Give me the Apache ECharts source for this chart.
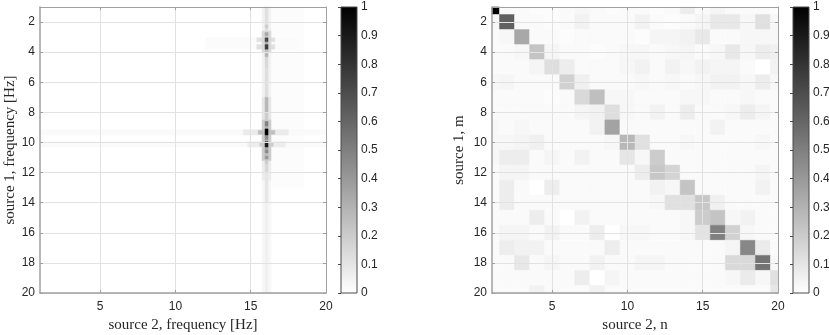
<!DOCTYPE html>
<html>
<head>
<meta charset="utf-8">
<title>Source coherence maps</title>
<script src="https://cdn.jsdelivr.net/npm/echarts@6/dist/echarts.min.js"></script>
<style>
  html, body { margin: 0; padding: 0; background: #fff; }
  #chart { width: 829px; height: 335px; }
</style>
</head>
<body>
<div id="chart"></div>
<script>
// tick values shown on the two panels
const xTicks = [5, 10, 15, 20]
const yTicks = [2, 4, 6, 8, 10, 12, 14, 16, 18, 20]
const grayRamp = ['#ffffff', '#000000']   // 0 -> white, 1 -> black
const colorbarRange = [[0, 1]]

// left panel: narrow line at ~16 Hz (source 2) with peaks along source 1
const coreCol = [15.95, 16.15]
const haloCol = [15.75, 16.35]
// [y0, y1, value] along the core of the line
const stripeCore = [
  [1, 2.2, 0.12], [2.2, 2.4, 0.2], [2.4, 2.7, 0.12], [2.7, 2.9, 0.35],
  [2.9, 3.05, 0.2], [3.05, 3.3, 0.72], [3.3, 3.5, 0.3], [3.5, 3.8, 0.76],
  [3.8, 4.1, 0.25], [4.1, 4.3, 0.3], [4.3, 5, 0.15], [5, 7, 0.13],
  [7, 8, 0.28], [8, 8.6, 0.2], [8.6, 8.9, 0.5], [8.9, 9.1, 0.3],
  [9.1, 9.5, 1.0], [9.5, 9.8, 0.45], [9.8, 9.95, 0.3], [9.95, 10.3, 0.9],
  [10.3, 10.5, 0.35], [10.5, 10.7, 0.45], [10.7, 10.9, 0.25], [10.9, 11.1, 0.4],
  [11.1, 11.4, 0.2], [11.4, 12, 0.15], [12, 14, 0.1], [14, 20, 0.06]
]
// [y0, y1, value] for the soft edge of the line
const stripeHalo = [
  [1, 2.6, 0.05], [2.6, 4, 0.15], [4, 7, 0.05], [7, 8.5, 0.1],
  [8.5, 11.2, 0.2], [11.2, 12.5, 0.07], [12.5, 20, 0.03]
]
// [x0, x1, y0, y1, value] faint cross terms
const crossBands = [
  [16.35, 18.5, 1, 13, 0.012],
  [12, 18, 3.05, 3.8, 0.015],
  [15.4, 16.6, 3.05, 3.3, 0.12],
  [15.4, 16.6, 3.5, 3.8, 0.12],
  [1, 20, 9.15, 9.5, 0.02],
  [1, 20, 9.95, 10.3, 0.02],
  [14.5, 17.5, 9.15, 9.5, 0.08],
  [14.8, 17.3, 9.95, 10.3, 0.07],
  [15.5, 16.6, 9.2, 9.45, 0.25],
  [15.6, 16.5, 10, 10.25, 0.2]
]

// right panel: 20 x 20 matrix, row m (source 1), column n (source 2)
const matrixRows = [
  [1.00, .02, .02, .01, .01, .02, .03, .02, .01, .02, .02, .01, .02, .07, .02, .04, .02, .02, .02, .01],
  [.03, .62, .02, .02, .01, .02, .05, .02, .02, .02, .05, .02, .01, .02, .04, .09, .09, .03, .12, .03],
  [.02, .03, .34, .02, .02, .01, .02, .02, .02, .02, .01, .04, .04, .05, .09, .02, .02, .03, .03, .03],
  [.02, .02, .03, .23, .04, .02, .02, .01, .02, .03, .03, .02, .03, .04, .02, .03, .09, .03, .07, .06],
  [.02, .02, .02, .04, .13, .07, .02, .02, .02, .03, .05, .02, .05, .03, .05, .04, .04, .02, .00, .05],
  [.03, .04, .02, .02, .02, .18, .06, .02, .02, .02, .03, .02, .03, .02, .03, .05, .05, .03, .07, .03],
  [.02, .02, .02, .02, .01, .02, .15, .25, .03, .03, .02, .02, .02, .03, .03, .02, .02, .03, .02, .02],
  [.02, .02, .02, .02, .02, .02, .04, .05, .13, .03, .02, .05, .02, .07, .02, .02, .03, .07, .04, .02],
  [.03, .02, .03, .02, .02, .02, .02, .05, .36, .02, .02, .02, .02, .02, .02, .05, .02, .02, .02, .02],
  [.03, .03, .04, .06, .02, .02, .02, .02, .03, .28, .12, .02, .02, .03, .02, .02, .02, .02, .03, .02],
  [.03, .07, .07, .02, .04, .02, .05, .02, .02, .10, .03, .20, .02, .02, .02, .02, .02, .02, .02, .02],
  [.02, .04, .04, .02, .02, .02, .02, .02, .02, .02, .07, .22, .17, .02, .02, .02, .02, .02, .04, .02],
  [.02, .07, .02, .00, .07, .02, .02, .02, .02, .02, .02, .05, .03, .23, .02, .02, .02, .02, .05, .02],
  [.02, .07, .02, .02, .02, .02, .02, .02, .02, .02, .02, .03, .12, .12, .22, .06, .02, .02, .02, .02],
  [.02, .02, .02, .07, .02, .00, .05, .02, .02, .02, .02, .02, .02, .03, .20, .23, .03, .05, .02, .02],
  [.02, .04, .04, .02, .05, .02, .02, .07, .00, .03, .03, .02, .02, .03, .11, .50, .18, .03, .02, .02],
  [.02, .07, .05, .05, .02, .02, .02, .02, .07, .02, .02, .02, .02, .02, .02, .02, .04, .47, .08, .02],
  [.02, .02, .09, .02, .04, .02, .02, .05, .02, .02, .04, .04, .02, .02, .02, .02, .15, .15, .55, .03],
  [.02, .02, .02, .02, .02, .02, .07, .00, .04, .02, .02, .02, .02, .02, .02, .02, .03, .08, .03, .12],
  [.02, .02, .02, .05, .02, .02, .02, .05, .02, .02, .02, .02, .02, .02, .02, .02, .02, .02, .02, .10]
]

const axisGray = '#a0a0a0'
const gridGray = '#e2e2e2'
const textColor = '#262626'
const labelFont = 'Liberation Sans, Arial, sans-serif'
const nameFont = 'Liberation Serif, Times New Roman, serif'

// build cells as [x0, x1, y0, y1, value]
const leftCells = []
crossBands.forEach(b => leftCells.push(b))
stripeHalo.forEach(s => leftCells.push([haloCol[0], haloCol[1], s[0], s[1], s[2]]))
stripeCore.forEach(s => leftCells.push([coreCol[0], coreCol[1], s[0], s[1], s[2]]))
leftCells.sort((a, b) => a[4] - b[4])

const rightCells = []
matrixRows.forEach((row, i) => {
  row.forEach((v, j) => {
    rightCells.push([j + 0.5, j + 1.5, i + 0.5, i + 1.5, v])
  })
})

function renderCell(params, api) {
  const p0 = api.coord([api.value(0), api.value(2)])
  const p1 = api.coord([api.value(1), api.value(3)])
  const cs = params.coordSys
  const shape = echarts.graphic.clipRectByRect({
    x: Math.min(p0[0], p1[0]),
    y: Math.min(p0[1], p1[1]),
    width: Math.abs(p1[0] - p0[0]),
    height: Math.abs(p1[1] - p0[1])
  }, { x: cs.x, y: cs.y, width: cs.width, height: cs.height })
  if (!shape) return
  const color = api.visual('color')
  return {
    type: 'rect',
    shape: shape,
    style: { fill: color, stroke: color, lineWidth: 0.5 }
  }
}

function renderBar(params, api) {
  const top = api.coord([0, api.value(1)])
  const bottom = api.coord([0, api.value(0)])
  const cs = params.coordSys
  return {
    type: 'rect',
    shape: { x: cs.x, y: top[1], width: cs.width, height: bottom[1] - top[1] },
    style: {
      fill: new echarts.graphic.LinearGradient(0, 0, 0, 1, [
        { offset: 0, color: grayRamp[1] },
        { offset: 1, color: grayRamp[0] }
      ]),
      stroke: '#4a4a4a',
      lineWidth: 1
    }
  }
}

function boxXAxes(grid, name) {
  return [{
    gridIndex: grid, type: 'value', min: 1, max: 20, position: 'bottom', z: 5,
    name: name, nameLocation: 'middle', nameGap: 21,
    nameTextStyle: { fontFamily: nameFont, fontSize: 15, color: textColor },
    axisLine: { onZero: false, lineStyle: { color: axisGray, width: 1.5 } },
    axisTick: { inside: true, length: 3, customValues: xTicks, lineStyle: { color: axisGray } },
    axisLabel: { customValues: xTicks, margin: 8, fontFamily: labelFont, fontSize: 12, color: textColor },
    splitLine: { show: true, lineStyle: { color: gridGray, width: 1 } }
  }, {
    gridIndex: grid, type: 'value', min: 1, max: 20, position: 'top', z: 5,
    axisLine: { onZero: false, lineStyle: { color: axisGray, width: 1 } },
    axisTick: { inside: true, length: 3, customValues: xTicks, lineStyle: { color: axisGray } },
    axisLabel: { show: false },
    splitLine: { show: false }
  }]
}

function boxYAxes(grid, name, gap) {
  return [{
    gridIndex: grid, type: 'value', min: 1, max: 20, inverse: true, position: 'left', z: 5,
    name: name, nameLocation: 'middle', nameGap: gap, nameRotate: 90,
    nameTextStyle: { fontFamily: nameFont, fontSize: 15, color: textColor },
    axisLine: { onZero: false, lineStyle: { color: axisGray, width: 1.5 } },
    axisTick: { inside: true, length: 3, customValues: yTicks, lineStyle: { color: axisGray } },
    axisLabel: { customValues: yTicks, margin: 5, fontFamily: labelFont, fontSize: 12, color: textColor },
    splitLine: { show: true, lineStyle: { color: gridGray, width: 1 } }
  }, {
    gridIndex: grid, type: 'value', min: 1, max: 20, inverse: true, position: 'right', z: 5,
    axisLine: { onZero: false, lineStyle: { color: axisGray, width: 1 } },
    axisTick: { inside: true, length: 3, customValues: yTicks, lineStyle: { color: axisGray } },
    axisLabel: { show: false },
    splitLine: { show: false }
  }]
}

function barXAxis(grid) {
  return { gridIndex: grid, type: 'value', min: 0, max: 1, show: false }
}

function barYAxis(grid) {
  return {
    gridIndex: grid, type: 'value', min: 0, max: 1, interval: 0.1, position: 'right', z: 5,
    axisLine: { show: false },
    axisTick: { inside: true, length: 3, lineStyle: { color: '#4a4a4a' } },
    axisLabel: { margin: 4, fontFamily: labelFont, fontSize: 12, color: textColor },
    splitLine: { show: false }
  }
}

const chart = echarts.init(document.getElementById('chart'), null, { renderer: 'canvas' })

chart.setOption({
  backgroundColor: '#ffffff',
  animation: false,
  grid: [
    { left: 40, top: 7, width: 286, height: 286, outerBoundsMode: 'none' },
    { left: 341, top: 7, width: 16, height: 286, outerBoundsMode: 'none' },
    { left: 492, top: 7, width: 286, height: 286, outerBoundsMode: 'none' },
    { left: 793, top: 7, width: 16, height: 286, outerBoundsMode: 'none' }
  ],
  xAxis: [
    ...boxXAxes(0, 'source 2, frequency [Hz]'),
    barXAxis(1),
    ...boxXAxes(2, 'source 2, n'),
    barXAxis(3)
  ],
  yAxis: [
    ...boxYAxes(0, 'source 1, frequency [Hz]', 22),
    barYAxis(1),
    ...boxYAxes(2, 'source 1, m', 25),
    barYAxis(3)
  ],
  visualMap: {
    type: 'continuous',
    show: false,
    min: 0,
    max: 1,
    dimension: 4,
    seriesIndex: [0, 1],
    inRange: { color: grayRamp }
  },
  series: [
    {
      type: 'custom', xAxisIndex: 0, yAxisIndex: 0, silent: true, z: 2,
      encode: { x: [0, 1], y: [2, 3] },
      data: leftCells, renderItem: renderCell
    },
    {
      type: 'custom', xAxisIndex: 3, yAxisIndex: 3, silent: true, z: 2,
      encode: { x: [0, 1], y: [2, 3] },
      data: rightCells, renderItem: renderCell
    },
    {
      type: 'custom', xAxisIndex: 2, yAxisIndex: 2, silent: true, z: 2,
      data: colorbarRange, renderItem: renderBar
    },
    {
      type: 'custom', xAxisIndex: 5, yAxisIndex: 5, silent: true, z: 2,
      data: colorbarRange, renderItem: renderBar
    }
  ]
})
</script>
</body>
</html>
